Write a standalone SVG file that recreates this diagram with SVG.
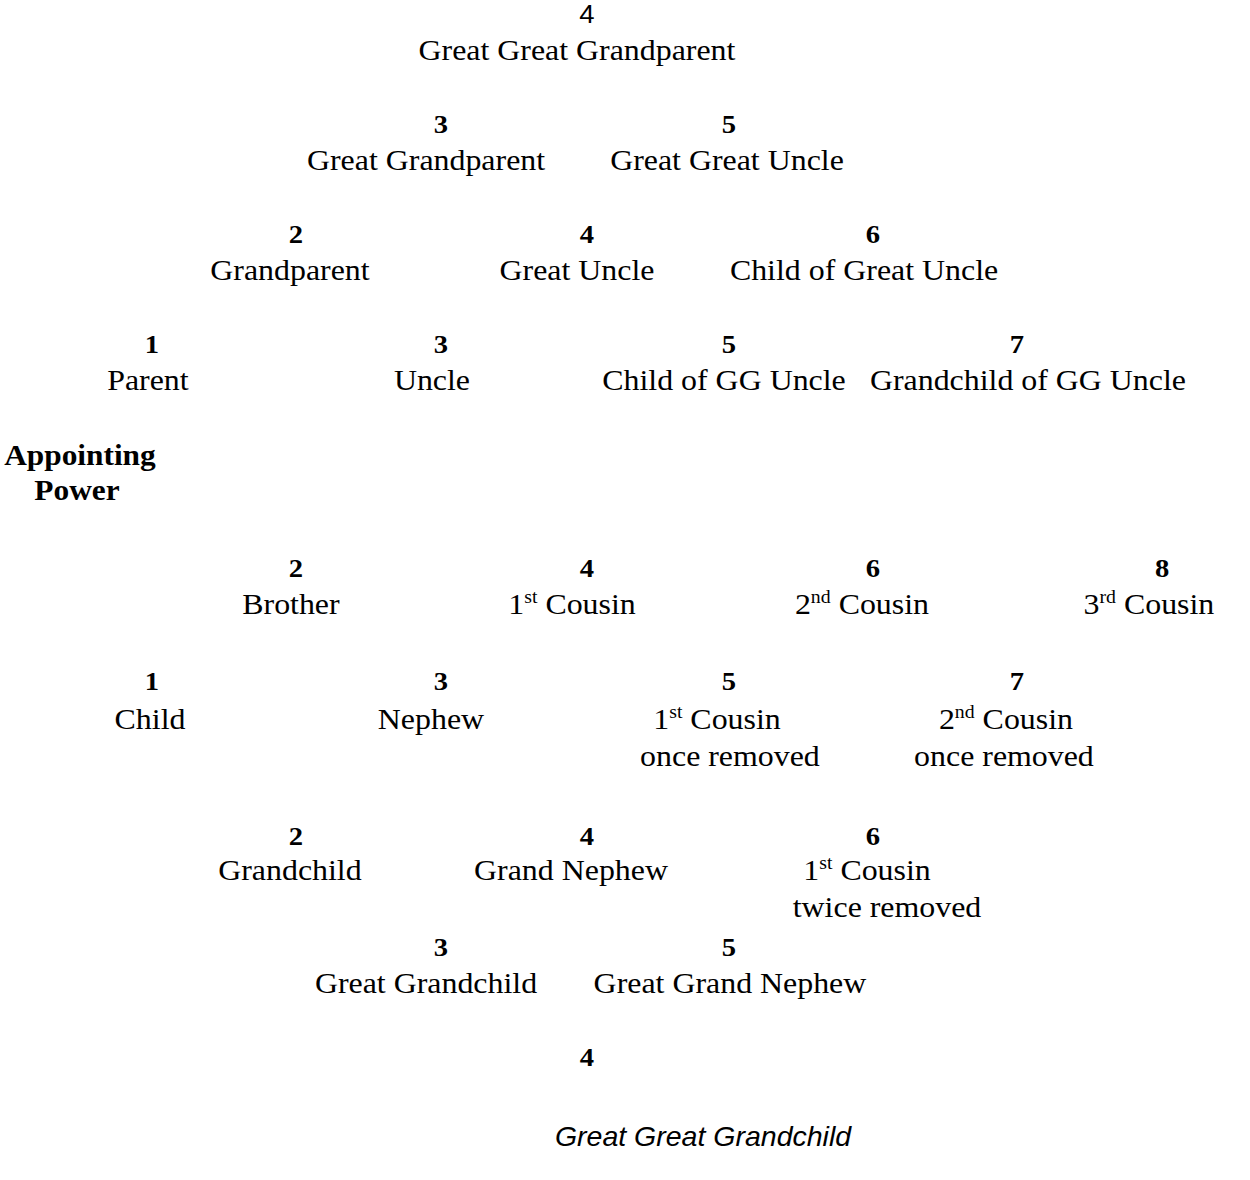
<svg xmlns="http://www.w3.org/2000/svg" width="1250" height="1180" viewBox="0 0 1250 1180">
<style>
text{font-family:"Liberation Serif","Times New Roman",serif;font-size:29px;fill:#000;text-anchor:middle}
.n{font-weight:bold;font-size:26px}
.b{font-weight:bold;font-size:28.5px}
.a{font-family:"Liberation Sans",Arial,sans-serif;font-size:25px}
.s{font-size:18px}
.i{font-family:"Liberation Sans",Arial,sans-serif;font-style:italic;font-size:28.5px}
</style>
<rect width="1250" height="1180" fill="#fff"/>
<g id="connectors"></g>
<g transform="scale(1.1 1)">
<g id="ggp"><text class="a" x="533.6" y="23">4</text><text x="524.5" y="60">Great Great Grandparent</text></g>
<g id="gp3"><text class="n" x="400.9" y="133">3</text><text x="387.3" y="170">Great Grandparent</text></g>
<g id="ggu"><text class="n" x="662.7" y="133">5</text><text x="660.9" y="170">Great Great Uncle</text></g>
<g id="gp2"><text class="n" x="269.1" y="243">2</text><text x="263.6" y="280">Grandparent</text></g>
<g id="gu"><text class="n" x="533.6" y="243">4</text><text x="524.5" y="280">Great Uncle</text></g>
<g id="cgu"><text class="n" x="793.6" y="243">6</text><text x="785.5" y="280">Child of Great Uncle</text></g>
<g id="parent"><text class="n" x="138.2" y="353">1</text><text x="134.5" y="390">Parent</text></g>
<g id="uncle"><text class="n" x="400.9" y="353">3</text><text x="392.7" y="390">Uncle</text></g>
<g id="cggu"><text class="n" x="662.7" y="353">5</text><text x="658.2" y="390">Child of GG Uncle</text></g>
<g id="gcggu"><text class="n" x="924.5" y="353">7</text><text x="934.5" y="390">Grandchild of GG Uncle</text></g>
<g id="appointing"><text class="b" x="72.7" y="465">Appointing</text><text class="b" x="70" y="500">Power</text></g>
<g id="brother"><text class="n" x="269.1" y="577">2</text><text x="264.5" y="614">Brother</text></g>
<g id="cousin1"><text class="n" x="533.6" y="577">4</text><text x="520" y="614">1<tspan class="s" dy="-11">st</tspan><tspan dy="11"> Cousin</tspan></text></g>
<g id="cousin2"><text class="n" x="793.6" y="577">6</text><text x="783.6" y="614">2<tspan class="s" dy="-11">nd</tspan><tspan dy="11"> Cousin</tspan></text></g>
<g id="cousin3"><text class="n" x="1056.4" y="577">8</text><text x="1044.5" y="614">3<tspan class="s" dy="-11">rd</tspan><tspan dy="11"> Cousin</tspan></text></g>
<g id="child"><text class="n" x="138.2" y="690">1</text><text x="136.4" y="729">Child</text></g>
<g id="nephew"><text class="n" x="400.9" y="690">3</text><text x="391.8" y="729">Nephew</text></g>
<g id="c1r1"><text class="n" x="662.7" y="690">5</text><text x="651.8" y="729">1<tspan class="s" dy="-11">st</tspan><tspan dy="11"> Cousin</tspan></text><text x="663.6" y="766">once removed</text></g>
<g id="c2r1"><text class="n" x="924.5" y="690">7</text><text x="914.5" y="729">2<tspan class="s" dy="-11">nd</tspan><tspan dy="11"> Cousin</tspan></text><text x="912.7" y="766">once removed</text></g>
<g id="grandchild"><text class="n" x="269.1" y="845">2</text><text x="263.6" y="880">Grandchild</text></g>
<g id="grandnephew"><text class="n" x="533.6" y="845">4</text><text x="519.1" y="880">Grand Nephew</text></g>
<g id="c1r2"><text class="n" x="793.6" y="845">6</text><text x="788.2" y="880">1<tspan class="s" dy="-11">st</tspan><tspan dy="11"> Cousin</tspan></text><text x="806.4" y="917">twice removed</text></g>
<g id="ggc"><text class="n" x="400.9" y="956">3</text><text x="387.3" y="993">Great Grandchild</text></g>
<g id="ggn"><text class="n" x="662.7" y="956">5</text><text x="663.6" y="993">Great Grand Nephew</text></g>
<g id="gggc"><text class="n" x="533.6" y="1066">4</text></g>
</g>
<g id="gggc-label"><text class="i" x="703" y="1146">Great Great Grandchild</text></g>
</svg>
